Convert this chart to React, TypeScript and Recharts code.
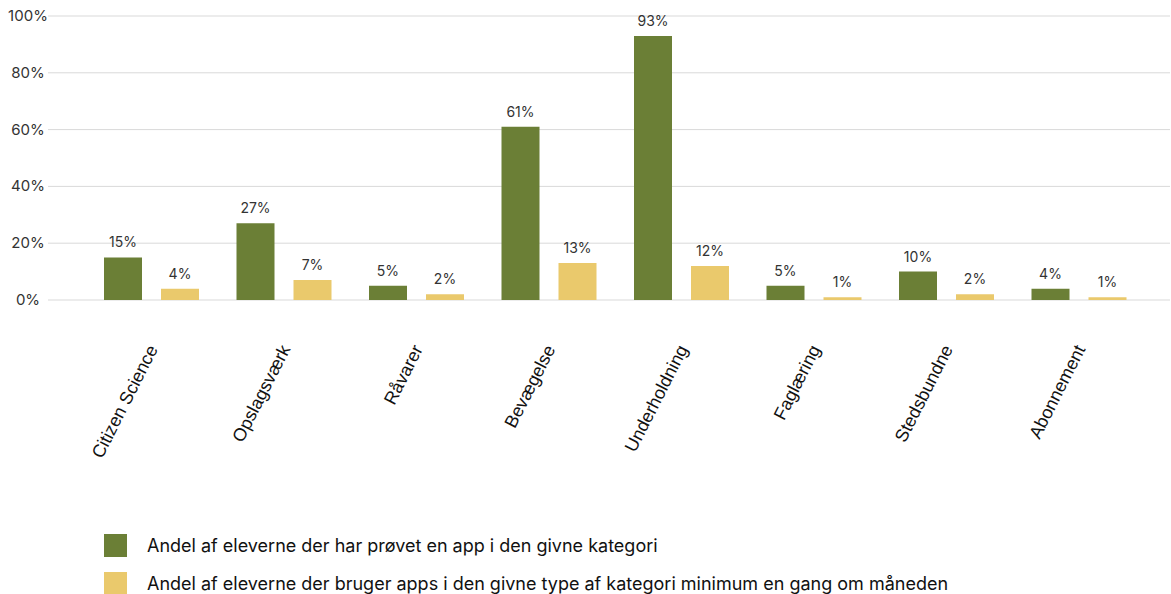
import { BarChart, Bar, XAxis, YAxis, CartesianGrid, Legend, LabelList } from "recharts";

const categories = [
  "Citizen Science",
  "Opslagsværk",
  "Råvarer",
  "Bevægelse",
  "Underholdning",
  "Faglæring",
  "Stedsbundne",
  "Abonnement",
];
const tried = [15, 27, 5, 61, 93, 5, 10, 4];
const monthly = [4, 7, 2, 13, 12, 1, 2, 1];
const yTicks = [0, 20, 40, 60, 80, 100];

const seriesNames = [
  "Andel af eleverne der har prøvet en app i den givne kategori",
  "Andel af eleverne der bruger apps i den givne type af kategori minimum en gang om måneden",
];

const GREEN = "#6b7f36";
const YELLOW = "#eac96c";
const UI_FONT = "Inter, 'Noto Sans', sans-serif";

const data = categories.map((name, i) => ({ name, tried: tried[i], monthly: monthly[i] }));

const YTick = (props: any) => {
  const { y, payload } = props;
  return (
    <text x={28} y={y} dy={5} textAnchor="middle" fill="#333" fontSize={15} fontFamily={UI_FONT}>
      {payload.value}%
    </text>
  );
};

const XTick = (props: any) => {
  const { x, y, payload } = props;
  const tx = x + 7;
  const ty = y + 49;
  return (
    <text
      x={tx}
      y={ty}
      textAnchor="end"
      fill="#111"
      fontSize={18}
      fontFamily="'Liberation Sans', Arial, sans-serif"
      transform={`rotate(-63, ${tx}, ${ty})`}
    >
      {payload.value}
    </text>
  );
};

const LegendBox = () => (
  <div style={{ height: 74, position: "relative", fontFamily: UI_FONT, fontSize: 18, color: "#111" }}>
    {seriesNames.map((label, i) => (
      <div
        key={label}
        style={{ position: "absolute", left: 104, top: 14 + i * 38, display: "flex", alignItems: "center" }}
      >
        <span style={{ width: 23, height: 23, background: i === 0 ? GREEN : YELLOW, display: "inline-block" }} />
        <span style={{ marginLeft: 20, whiteSpace: "nowrap" }}>{label}</span>
      </div>
    ))}
  </div>
);

export default function App() {
  return (
    <div style={{ position: "absolute", left: 0, top: 0, width: 1171, height: 594, background: "#fff" }}>
      <BarChart
        width={1171}
        height={594}
        data={data}
        margin={{ top: 16, right: 1, left: 0, bottom: 0 }}
        barSize={38}
        barGap={19}
      >
        <CartesianGrid vertical={false} stroke="#d9d9d9" />
        <XAxis
          dataKey="name"
          axisLine={false}
          tickLine={false}
          tickSize={0}
          tickMargin={0}
          height={220}
          interval={0}
          padding={{ left: 37, right: 25 }}
          tick={<XTick />}
        />
        <YAxis
          domain={[0, 100]}
          ticks={yTicks}
          width={48}
          axisLine={false}
          tickLine={false}
          tick={<YTick />}
        />
        <Legend verticalAlign="bottom" wrapperStyle={{ left: 0, bottom: 0, width: 1171 }} content={<LegendBox />} />
        <Bar dataKey="tried" fill={GREEN} isAnimationActive={false}>
          <LabelList
            dataKey="tried"
            position="top"
            offset={10}
            formatter={(v: any) => `${v}%`}
            style={{ fill: "#333", fontSize: 14, fontFamily: UI_FONT }}
          />
        </Bar>
        <Bar dataKey="monthly" fill={YELLOW} isAnimationActive={false}>
          <LabelList
            dataKey="monthly"
            position="top"
            offset={10}
            formatter={(v: any) => `${v}%`}
            style={{ fill: "#333", fontSize: 14, fontFamily: UI_FONT }}
          />
        </Bar>
      </BarChart>
    </div>
  );
}
